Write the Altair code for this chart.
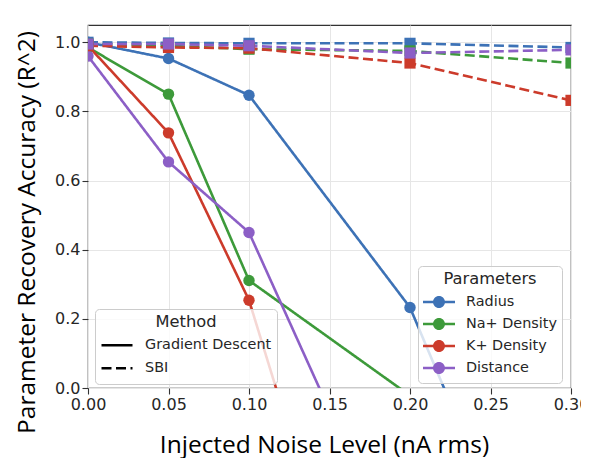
import altair as alt
import pandas as pd

# ---- data ----
noise_levels = [0.0, 0.05, 0.10, 0.20, 0.30]
parameters = ["Radius", "Na+ Density", "K+ Density", "Distance"]
methods = ["Gradient Descent", "SBI"]
colors = ["#3d72b6", "#3d9a3a", "#cc3b2b", "#8c5fc6"]

gd_radius = [1.000, 0.953, 0.847, 0.233, -0.87]
gd_na = [0.985, 0.850, 0.311, -0.022, None]
gd_k = [0.990, 0.738, 0.254, -1.26, None]
gd_distance = [0.960, 0.654, 0.450, -0.58, None]

sbi_radius = [1.000, 0.998, 0.997, 0.997, 0.985]
sbi_na = [0.995, 0.990, 0.980, 0.975, 0.940]
sbi_k = [0.990, 0.985, 0.983, 0.940, 0.832]
sbi_distance = [0.995, 0.995, 0.990, 0.969, 0.978]

x_ticks = [0.0, 0.05, 0.10, 0.15, 0.20, 0.25, 0.30]
y_ticks = [0.0, 0.2, 0.4, 0.6, 0.8, 1.0]

rows = []
for method, series in [("Gradient Descent", [gd_radius, gd_na, gd_k, gd_distance]),
                       ("SBI", [sbi_radius, sbi_na, sbi_k, sbi_distance])]:
    for p, vals in zip(parameters, series):
        for x, v in zip(noise_levels, vals):
            if v is not None:
                rows.append({"noise": x, "r2": v, "Parameter": p, "Method": method})
df = pd.DataFrame(rows)

TXT = "#262626"
TITLE_FONT = "Open Sans"

legend_common = dict(
    orient="none", direction="vertical", padding=5, titlePadding=5,
    titleAnchor="middle", titleAlign="center",
    fillColor="rgba(255,255,255,0.8)", strokeColor="#cccccc", cornerRadius=4,
    titleFont="DejaVu Sans", titleFontSize=16.3, titleFontWeight="normal", titleColor=TXT,
    labelFont="DejaVu Sans", labelFontSize=14.4, labelColor=TXT, labelLimit=400,
    labelOffset=11,
)

sym_path = ("M-1,-0.08L1,-0.08L1,0.08L-1,0.08Z "
            "M0.375,0A0.375,0.375,0,1,1,-0.375,0A0.375,0.375,0,1,1,0.375,0Z")

x_enc = alt.X("noise:Q",
              scale=alt.Scale(domain=[0, 0.3], nice=False, zero=False),
              axis=alt.Axis(values=x_ticks, format=".2f", labelFlush=False,
                            title="Injected Noise Level (nA rms)",
                            titleX=236, titleY=64, titleBaseline="alphabetic",
                            titleAlign="center", titleFontSize=24.5))
y_enc = alt.Y("r2:Q",
              scale=alt.Scale(domain=[0, 1.05], nice=False, zero=False),
              axis=alt.Axis(values=y_ticks, format=".1f", labelFlush=False,
                            title="Parameter Recovery  Accuracy (R^2)",
                            titleX=-53.5, titleY=207, titleAngle=-90,
                            titleBaseline="alphabetic", titleAlign="center",
                            titleFontSize=24.5))

color_scale = alt.Scale(domain=parameters, range=colors)

lines = alt.Chart(df).mark_line(strokeWidth=2.6, clip=True).encode(
    x=x_enc, y=y_enc,
    color=alt.Color("Parameter:N", scale=color_scale, legend=None),
    strokeDash=alt.StrokeDash(
        "Method:N",
        scale=alt.Scale(domain=methods, range=[[1, 0], [10, 4.5]]),
        legend=alt.Legend(title="Method", legendX=7, legendY=284,
                          symbolType="stroke", symbolSize=961, symbolStrokeColor="black",
                          symbolStrokeWidth=2.6, clipHeight=20, rowPadding=3, **legend_common)),
    order=alt.Order("noise:Q"),
)

circles = alt.Chart(df).transform_filter(
    alt.datum.Method == "Gradient Descent"
).mark_point(filled=True, opacity=1, size=130, shape="circle", clip=True).encode(
    x=x_enc, y=y_enc,
    color=alt.Color("Parameter:N", scale=color_scale,
                    legend=alt.Legend(title="Parameters", legendX=330, legendY=241,
                                      symbolType=sym_path, symbolSize=1024, symbolOpacity=1,
                                      symbolStrokeWidth=0, clipHeight=19.3, rowPadding=2,
                                      **legend_common)),
)

squares = alt.Chart(df).transform_filter(
    alt.datum.Method == "SBI"
).mark_point(filled=True, opacity=1, size=125, shape="square", clip=True).encode(
    x=x_enc, y=y_enc,
    color=alt.Color("Parameter:N", scale=color_scale, legend=None),
)

chart = alt.layer(lines, circles, squares).resolve_legend(
    color="independent", strokeDash="independent"
).properties(
    width=483, height=363,
    autosize=alt.AutoSizeParams(type="none"),
    padding={"left": 80, "top": 17, "right": 10, "bottom": 70},
    background="white",
).configure_view(
    stroke="#333333", strokeWidth=1.2,
).configure_axis(
    domain=False, grid=True, gridColor="#e6e6e6", gridWidth=1,
    ticks=True, tickColor="#333333", tickSize=6, tickWidth=1.1,
    labelFont="DejaVu Sans", labelFontSize=16, labelColor=TXT, labelPadding=2,
    titleFont=TITLE_FONT, titleFontWeight="normal", titleColor="black",
)

chart.save("out.html", embed_options={"renderer": "svg", "actions": False})
